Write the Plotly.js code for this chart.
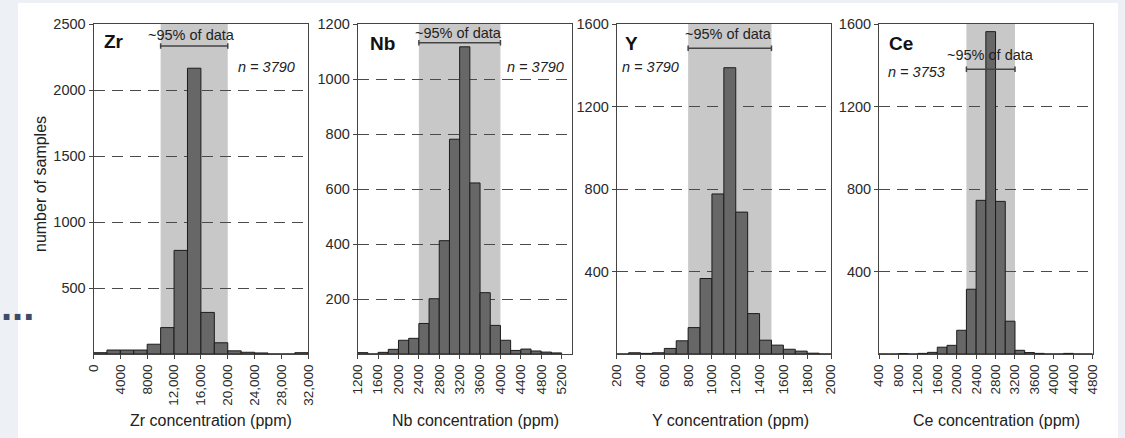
<!DOCTYPE html>
<html><head><meta charset="utf-8">
<script src="https://cdn.plot.ly/plotly-3.0.1.min.js"></script>
<style>html,body{margin:0;padding:0;background:#edf0f5;}#chart{width:1125px;height:438px;}</style>
</head><body><div id="chart"></div>
<script>
// ---------- data ----------
const elements = ["Zr", "Nb", "Y", "Ce"];
const sampleCounts = ["n = 3790", "n = 3790", "n = 3790", "n = 3753"];

const zrBinCenters = [1000,3000,5000,7000,9000,11000,13000,15000,17000,19000,21000,23000,25000,27000,29000,31000];
const zrCounts     = [10,30,30,30,74,200,785,2165,315,85,24,13,8,0,0,10];

const nbBinCenters = [1300,1500,1700,1900,2100,2300,2500,2700,2900,3100,3300,3500,3700,3900,4100,4300,4500,4700,4900,5100];
const nbCounts     = [5,0,6,17,50,57,111,201,412,781,1117,622,223,104,50,13,18,11,7,4];

const yBinCenters  = [250,350,450,550,650,750,850,950,1050,1150,1250,1350,1450,1550,1650,1750,1850,1950];
const yCounts      = [0,6,3,6,27,64,128,366,776,1388,688,196,67,43,23,14,4,0];

const ceBinCenters = [500,700,900,1100,1300,1500,1700,1900,2100,2300,2500,2700,2900,3100,3300,3500,3700,3900,4100,4300,4500,4700];
const ceCounts     = [0,0,2,0,3,8,33,42,115,314,745,1563,740,159,18,7,3,0,0,3,0,0];

const binWidths = [2000, 200, 100, 200];
const ci95Low  = [10000, 2400, 800, 2200];
const ci95High = [20000, 4000, 1500, 3200];

const zrTickVals = [0,4000,8000,12000,16000,20000,24000,28000,32000];
const zrTickText = ["0","4000","8000","12,000","16,000","20,000","24,000","28,000","32,000"];
const nbTickVals = [1200,1600,2000,2400,2800,3200,3600,4000,4400,4800,5200];
const nbTickText = ["1200","1600","2000","2400","2800","3200","3600","4000","4400","4800","5200"];
const yTickVals  = [200,400,600,800,1000,1200,1400,1600,1800,2000];
const yTickText  = ["200","400","600","800","1000","1200","1400","1600","1800","2000"];
const ceTickVals = [400,800,1200,1600,2000,2400,2800,3200,3600,4000,4400,4800];
const ceTickText = ["400","800","1200","1600","2000","2400","2800","3200","3600","4000","4400","4800"];

const countTickVals = [[500,1000,1500,2000,2500],[200,400,600,800,1000,1200],[400,800,1200,1600],[400,800,1200,1600]];
const xRanges = [[0,32000],[1200,5400],[200,2000],[400,4800]];
const yRanges = [[0,2500],[0,1200],[0,1600],[0,1600]];
const xTitles = ["Zr concentration (ppm)","Nb concentration (ppm)","Y concentration (ppm)","Ce concentration (ppm)"];
const yTitle = "number of samples";
const ciLabel = "~95% of data";

// ---------- layout helpers ----------
const W = 1125, H = 438;
const px = x => x / W;
const py = y => 1 - y / H;
const FONT = "Liberation Sans, Arial, Helvetica, sans-serif";

const binCenters = [zrBinCenters, nbBinCenters, yBinCenters, ceBinCenters];
const counts = [zrCounts, nbCounts, yCounts, ceCounts];
const tickVals = [zrTickVals, nbTickVals, yTickVals, ceTickVals];
const tickText = [zrTickText, nbTickText, yTickText, ceTickText];

// pixel geometry of each panel
const plotLeft  = [93.5, 357.7, 616.7, 879];
const plotRight = [308.3, 571.8, 831, 1092.7];
const plotTop = 24, plotBottom = 354;
const labelPos  = [[101.5,41.7],[368.3,43.3],[623.3,43.3],[886.7,43.3]];
const nPos      = [[297,66.7,"right"],[565.7,66.7,"right"],[620,66.7,"left"],[885.7,72,"left"]];
const ciTextPos = [[191.5,35],[458,33.3],[728.8,34.5],[990,55]];
const ciBarY    = [46,42.7,48.3,69.3];
const xTitleX   = [211,475.5,730.8,996.7];

const traces = [];
const layout = {
  width: W, height: H,
  margin: {l:0, r:0, t:0, b:0},
  paper_bgcolor: "#edf0f5",
  plot_bgcolor: "#ffffff",
  showlegend: false,
  hovermode: false,
  bargap: 0,
  font: {family: FONT, color: "#222"},
  shapes: [],
  annotations: []
};

// white card
layout.shapes.push({type:"rect", xref:"paper", yref:"paper", x0:px(18), x1:px(1118), y0:0, y1:py(3),
  fillcolor:"#ffffff", line:{width:0}, layer:"below"});

for (let i = 0; i < 4; i++) {
  const s = i === 0 ? "" : String(i + 1);
  const xa = "x" + s, ya = "y" + s;
  traces.push({
    type: "bar", x: binCenters[i], y: counts[i], width: binWidths[i],
    xaxis: xa, yaxis: ya,
    marker: {color: "#676767", line: {color: "#1c1c1c", width: 1}}
  });
  layout["xaxis" + s] = {
    domain: [px(plotLeft[i]), px(plotRight[i])], anchor: ya,
    range: xRanges[i], tickvals: tickVals[i], ticktext: tickText[i],
    tickangle: -90, ticks: "outside", ticklen: 4, tickcolor: "#444",
    showgrid: false, zeroline: false, showline: true, mirror: true,
    linecolor: "#444", linewidth: 1, tickfont: {family: FONT, size: 13.5, color: "#2a2a2a"}
  };
  layout["yaxis" + s] = {
    domain: [py(plotBottom), py(plotTop)], anchor: xa,
    range: yRanges[i], tickvals: countTickVals[i],
    ticks: "outside", ticklen: 4, tickcolor: "#444",
    showgrid: true, gridcolor: "#4a4a4a", gridwidth: 1, griddash: "11px,7px",
    zeroline: false, showline: true, mirror: true,
    linecolor: "#444", linewidth: 1, tickfont: {family: FONT, size: 14.5, color: "#2a2a2a"}
  };
  // ~95% shaded band
  layout.shapes.push({type:"rect", xref:xa, yref:ya + " domain", x0:ci95Low[i], x1:ci95High[i], y0:0, y1:1,
    fillcolor:"#c8c8c8", line:{width:0}, layer:"below"});
  // bracket
  const by = ciBarY[i];
  layout.shapes.push({type:"line", xref:xa, yref:"paper", x0:ci95Low[i], x1:ci95High[i], y0:py(by), y1:py(by),
    line:{color:"#444", width:1.5}, layer:"above"});
  [ci95Low[i], ci95High[i]].forEach(v => layout.shapes.push({type:"line", xref:xa, yref:"paper",
    x0:v, x1:v, y0:py(by-2.8), y1:py(by+2.8), line:{color:"#444", width:1.5}, layer:"above"}));

  layout.annotations.push({xref:"paper", yref:"paper", x:px(labelPos[i][0]), y:py(labelPos[i][1]),
    xanchor:"left", yanchor:"middle", text:"<b>" + elements[i] + "</b>", showarrow:false,
    font:{family:FONT, size:19, color:"#111"}});
  layout.annotations.push({xref:"paper", yref:"paper", x:px(nPos[i][0]), y:py(nPos[i][1]),
    xanchor:nPos[i][2], yanchor:"middle", text:"<i>" + sampleCounts[i] + "</i>", showarrow:false,
    font:{family:FONT, size:14.5, color:"#222"}});
  layout.annotations.push({xref:"paper", yref:"paper", x:px(ciTextPos[i][0]), y:py(ciTextPos[i][1]),
    xanchor:"center", yanchor:"middle", text:ciLabel, showarrow:false,
    font:{family:FONT, size:14.5, color:"#222"}});
  layout.annotations.push({xref:"paper", yref:"paper", x:px(xTitleX[i]), y:py(420.7),
    xanchor:"center", yanchor:"middle", text:xTitles[i], showarrow:false,
    font:{family:FONT, size:16, color:"#222"}});
}
layout.annotations.push({xref:"paper", yref:"paper", x:px(40), y:py(184), xanchor:"center", yanchor:"middle",
  text:yTitle, textangle:-90, showarrow:false, font:{family:FONT, size:16, color:"#222"}});
// fragment of the surrounding page text at the left edge
layout.annotations.push({xref:"paper", yref:"paper", x:0, y:py(306), xanchor:"left", yanchor:"middle",
  text:"<b>...</b>", showarrow:false, borderpad:0, font:{family:FONT, size:40, color:"#3d4b69"}});

Plotly.newPlot("chart", traces, layout, {displayModeBar:false, staticPlot:true});
</script></body></html>
